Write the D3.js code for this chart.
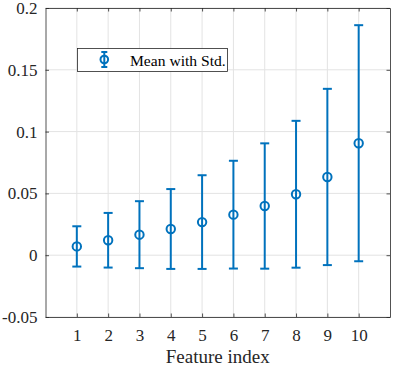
<!DOCTYPE html>
<html>
<head>
<meta charset="utf-8">
<script src="https://cdn.jsdelivr.net/npm/d3@7"></script>
<style>
  body { margin: 0; background: #fff; }
  svg { display: block; }
  svg text { font-family: "Liberation Serif", "Times New Roman", serif; }
</style>
</head>
<body>
<svg id="chart" width="394" height="367"></svg>
<script>
// data
const featureIdx = [1, 2, 3, 4, 5, 6, 7, 8, 9, 10];
const meanVals = [0.0071, 0.0121, 0.0166, 0.0212, 0.0268, 0.0328, 0.0398, 0.0493, 0.0633, 0.0906];
const stdVals = [0.0163, 0.0221, 0.0271, 0.0323, 0.0379, 0.0436, 0.0507, 0.0594, 0.0713, 0.0955];
const yTicks = [-0.05, 0, 0.05, 0.1, 0.15, 0.2];
const yTickLabels = ['-0.05', '0', '0.05', '0.1', '0.15', '0.2'];
const legendLabel = 'Mean with Std.';
const xLabel = 'Feature index';

const blue = '#0072BD';
const axisColor = '#262626';
const serif = '"Liberation Serif", "Times New Roman", serif';

const svg = d3.select('#chart');

const plot = { left: 45.5, right: 390, top: 8, bottom: 317 };

const x = d3.scaleLinear().domain([0, 11]).range([plot.left, plot.right]);
const y = d3.scaleLinear().domain([-0.05, 0.2]).range([plot.bottom, plot.top]);

// grid lines
const grid = svg.append('g');
grid.selectAll('.vgrid')
  .data(featureIdx)
  .enter().append('line')
  .attr('x1', d => x(d)).attr('x2', d => x(d))
  .attr('y1', plot.top).attr('y2', plot.bottom)
  .attr('stroke', '#e3e3e3').attr('stroke-width', 1);
grid.selectAll('.hgrid')
  .data(yTicks)
  .enter().append('line')
  .attr('x1', plot.left).attr('x2', plot.right)
  .attr('y1', d => y(d)).attr('y2', d => y(d))
  .attr('stroke', '#e3e3e3').attr('stroke-width', 1);

// axes (ticks inside, box on)
const tickLen = 3.5;
const xAxisB = d3.axisBottom(x).tickValues(featureIdx).tickSizeInner(-tickLen).tickSizeOuter(0).tickPadding(12);
const xAxisT = d3.axisTop(x).tickValues(featureIdx).tickSizeInner(-tickLen).tickSizeOuter(0).tickFormat('');
const yAxisL = d3.axisLeft(y).tickValues(yTicks).tickSizeInner(-tickLen).tickSizeOuter(0).tickPadding(8)
  .tickFormat((d, i) => yTickLabels[i]);
const yAxisR = d3.axisRight(y).tickValues(yTicks).tickSizeInner(-tickLen).tickSizeOuter(0).tickFormat('');

function styleAxis(g) {
  g.attr('font-family', serif).attr('font-size', 17);
  g.select('.domain').attr('stroke', axisColor).attr('stroke-width', 0.8);
  g.selectAll('.tick line').attr('stroke', axisColor).attr('stroke-width', 0.8);
  g.selectAll('.tick text').attr('fill', axisColor)
    .style('font-family', serif)
    .style('font-size', '17px');
}

svg.append('g').attr('transform', `translate(0,${plot.bottom})`).call(xAxisB).call(styleAxis);
svg.append('g').attr('transform', `translate(0,${plot.top})`).call(xAxisT).call(styleAxis);
svg.append('g').attr('transform', `translate(${plot.left},0)`).call(yAxisL).call(styleAxis);
svg.append('g').attr('transform', `translate(${plot.right},0)`).call(yAxisR).call(styleAxis);

// x label
svg.append('text')
  .attr('x', (plot.left + plot.right) / 2)
  .attr('y', 363)
  .attr('text-anchor', 'middle')
  .attr('fill', axisColor)
  .style('font-size', '19px')
  .text(xLabel);

// error bars
const capW = 4.5;
const bars = svg.append('g').selectAll('.eb')
  .data(featureIdx.map((f, i) => ({ f, m: meanVals[i], s: stdVals[i] })))
  .enter().append('g');

bars.append('line')
  .attr('x1', d => x(d.f)).attr('x2', d => x(d.f))
  .attr('y1', d => y(d.m - d.s)).attr('y2', d => y(d.m + d.s))
  .attr('stroke', blue).attr('stroke-width', 2);
bars.append('line')
  .attr('x1', d => x(d.f) - capW).attr('x2', d => x(d.f) + capW)
  .attr('y1', d => y(d.m + d.s)).attr('y2', d => y(d.m + d.s))
  .attr('stroke', blue).attr('stroke-width', 2);
bars.append('line')
  .attr('x1', d => x(d.f) - capW).attr('x2', d => x(d.f) + capW)
  .attr('y1', d => y(d.m - d.s)).attr('y2', d => y(d.m - d.s))
  .attr('stroke', blue).attr('stroke-width', 2);
bars.append('circle')
  .attr('cx', d => x(d.f)).attr('cy', d => y(d.m))
  .attr('r', 4.2)
  .attr('fill', 'none')
  .attr('stroke', blue).attr('stroke-width', 2);

// legend
const lg = svg.append('g');
lg.append('rect')
  .attr('x', 77.5).attr('y', 48.5).attr('width', 150).attr('height', 23)
  .attr('fill', '#fff').attr('stroke', axisColor).attr('stroke-width', 0.8);
const lx = 104.3, ly = 59.5;
lg.append('line').attr('x1', lx).attr('x2', lx).attr('y1', ly - 7.5).attr('y2', ly + 7.5)
  .attr('stroke', blue).attr('stroke-width', 2);
lg.append('line').attr('x1', lx - 3).attr('x2', lx + 3).attr('y1', ly - 7.5).attr('y2', ly - 7.5)
  .attr('stroke', blue).attr('stroke-width', 2);
lg.append('line').attr('x1', lx - 3).attr('x2', lx + 3).attr('y1', ly + 7.5).attr('y2', ly + 7.5)
  .attr('stroke', blue).attr('stroke-width', 2);
lg.append('circle').attr('cx', lx).attr('cy', ly).attr('r', 3.8)
  .attr('fill', 'none').attr('stroke', blue).attr('stroke-width', 2);
lg.append('text')
  .attr('x', 130).attr('y', 66)
  .attr('fill', '#000')
  .style('font-size', '15.6px')
  .text(legendLabel);
</script>
</body>
</html>
